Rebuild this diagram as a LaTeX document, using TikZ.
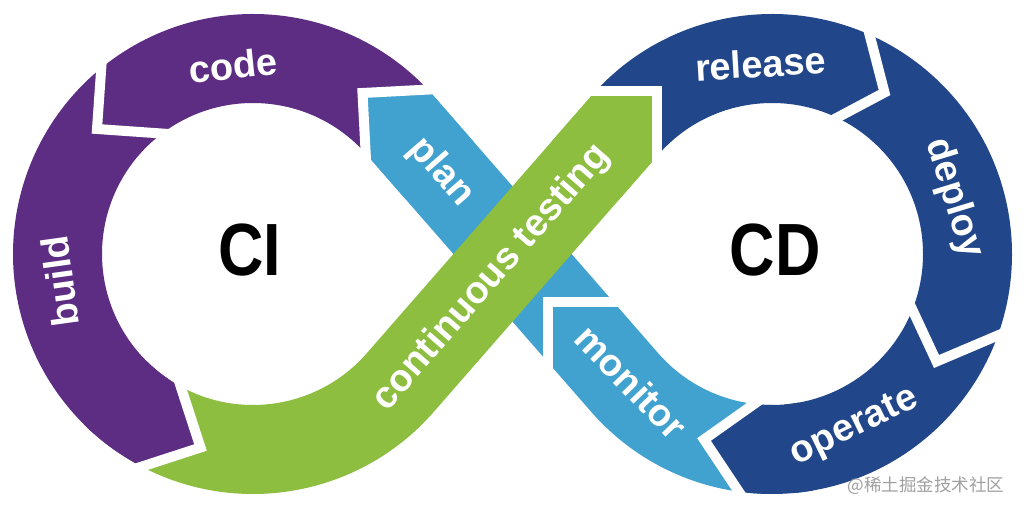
\documentclass[tikz,border=0pt]{standalone}
\usepackage{fontspec}
\setmainfont{Liberation Sans}
\newfontfamily\cifont{Liberation Sans}[FakeStretch=0.85]
\newfontfamily\cjkfont{Noto Sans CJK SC}
\usetikzlibrary{calc}
\definecolor{cpurple}{RGB}{92,45,130}
\definecolor{cgreen}{RGB}{141,190,64}
\definecolor{clblue}{RGB}{65,161,207}
\definecolor{cdblue}{RGB}{33,71,138}
\definecolor{cwm}{RGB}{160,160,160}
\begin{document}
\begin{tikzpicture}[x=1pt,y=1pt,
  band/.style={line width=89pt},
  gapline/.style={white, line width=10pt, miter limit=10},
  lbl/.style={text=white, font=\fontsize{38}{42}\selectfont\bfseries, inner sep=0pt, text height=19.7pt, text depth=0pt},
  big/.style={text=black, font=\cifont\fontsize{74}{80}\selectfont\bfseries, inner sep=0pt, text height=53pt, text depth=0pt}]
\useasboundingbox (0,0) rectangle (1024,513);
\fill[white] (0,0) rectangle (1024,513);
\coordinate (C1) at (253,259);
\coordinate (C2) at (772,259);
\coordinate (P1) at ($(C1)+(41.11:195.5)$);
\coordinate (P2) at ($(C1)+(-41.11:195.5)$);
\coordinate (P3) at ($(C2)+(138.89:195.5)$);
\coordinate (P4) at ($(C2)+(-138.89:195.5)$);
\coordinate (c1) at (548,210.5);
\coordinate (c2) at (362.5,420);
\coordinate (c3) at (97,384);
\coordinate (c4) at (200.5,65.5);
\coordinate (c5) at (656.5,421.5);
\coordinate (c6) at (884.5,420.5);
\coordinate (c7) at (936.5,151.5);
\coordinate (c8) at (704,73.5);
% main bands
\draw[band, clblue] ($(C2)+(-90:195.5)$) arc[start angle=-90, end angle=-138.89, radius=195.5] -- (P1);
\draw[band, cdblue] (P3) arc[start angle=138.89, end angle=-85, radius=195.5];
\draw[band, cpurple] (P1) arc[start angle=41.11, end angle=236, radius=195.5];
\draw[band, cgreen] ($(C1)+(236:195.5)$) arc[start angle=236, end angle=318.89, radius=195.5] -- (P3);
% heads
\begin{scope}
\clip (c5) -- ++(180:150) -- ++(270:150) -- ++(0:150) -- cycle;
\draw[band, cgreen] ($(P3)!60pt!(P2)$) -- (P3) arc[start angle=138.89, end angle=105, radius=195.5];
\end{scope}
\begin{scope}
\clip (c2) -- ++(3:150) -- ++(273:150) -- ++(183:150) -- cycle;
\draw[band, clblue] ($(P1)!60pt!(P4)$) -- (P1) arc[start angle=41.11, end angle=75, radius=195.5];
\end{scope}
\begin{scope}
\clip (c4) -- ++(198:150) -- ++(108:150) -- ++(18:150) -- cycle;
\draw[band, cpurple] ($(C1)+(225:195.5)$) arc[start angle=225, end angle=275, radius=195.5];
\end{scope}
\begin{scope}
\clip (c8) -- ++(303.7:150) -- ++(35.3:150) -- ++(123.7:150) -- cycle;
\draw[band, cdblue] ($(C2)+(-80:195.5)$) arc[start angle=-80, end angle=-125, radius=195.5];
\end{scope}
% gaps
\draw[gapline] ($(c1)+(0:72)$) -- (c1) -- ($(c1)+(270:75)$);
\draw[gapline] ($(c2)+(3:80)$) -- (c2) -- ($(c2)+(273:80)$);
\draw[gapline] ($(c3)+(86:80)$) -- (c3) -- ($(c3)+(-4:80)$);
\draw[gapline] ($(c4)+(198:80)$) -- (c4) -- ($(c4)+(108:80)$);
\draw[gapline] ($(c5)+(180:80)$) -- (c5) -- ($(c5)+(270:80)$);
\draw[gapline] ($(c6)+(104.5:80)$) -- (c6) -- ($(c6)+(208:80)$);
\draw[gapline] ($(c7)+(23:80)$) -- (c7) -- ($(c7)+(115:80)$);
\draw[gapline] ($(c8)+(303.7:80)$) -- (c8) -- ($(c8)+(35.3:80)$);
% labels
\node[lbl, rotate=5.9] (tcode) at ($(C1)+(95.9:186)$) {code};
\node[lbl, rotate=98] (tbuild) at ($(C1)+(188:191)$) {build};
\node[lbl, rotate=-48.89] (tplan) at (441,341) {plan};
\node[lbl, rotate=48.89] (ttest) at (491.7,235.2) {continuous testing};
\node[lbl, rotate=3.4] (trel) at ($(C2)+(93.4:187)$) {release};
\node[lbl, rotate=-73] (tdep) at ($(C2)+(17:190)$) {deploy};
\node[lbl, rotate=26] (topr) at ($(C2)+(-64.5:191)$) {operate};
\node[lbl, rotate=-46] (tmon) at (628.5,128.5) {monitor};
\node[big] (ci) at (249.5,263.5) {CI};
\node[big] (cd) at (775,263.5) {CD};
\node[text=cwm, font=\cjkfont\fontsize{17.5}{20}\selectfont, inner sep=0pt] (wm) at (926,27.5) {@稀土掘金技术社区};
\end{tikzpicture}
\end{document}
